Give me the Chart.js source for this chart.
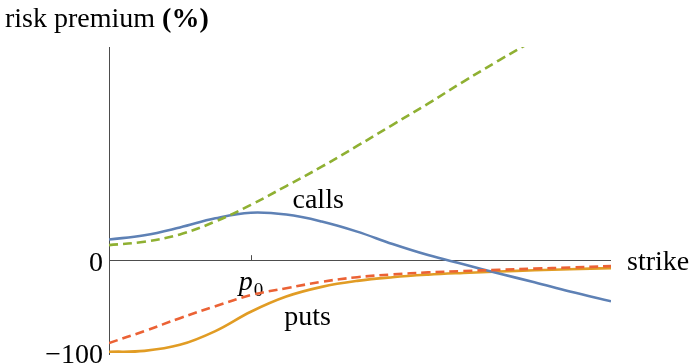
<!DOCTYPE html>
<html>
<head>
<meta charset="utf-8">
<script src="https://cdn.jsdelivr.net/npm/chart.js@4.4.1/dist/chart.umd.min.js"></script>
<style>
  html, body { margin: 0; padding: 0; background: #fff; }
  #wrap { width: 691px; height: 363px; }
</style>
</head>
<body>
<div id="wrap"><canvas id="c" width="691" height="363"></canvas></div>
<script>
// Strike grid, in units of the reference price p0
const strikes = [0, 0.25, 0.5, 0.75, 1, 1.25, 1.5, 1.75, 2, 2.25, 2.5, 2.75, 3, 3.25, 3.54];

// Risk premium (%) of calls and puts, solid and dashed variants
const callsSolid  = [22.5, 27, 35.5, 45.5, 51.5, 49.5, 42, 31, 17.5, 5.5, -4.5, -14.5, -24, -34, -44.6];
const callsDashed = [16.3, 20, 28, 42, 60, 80.5, 101.5, 124, 147, 170, 194, 217, 239, null, null];
const putsSolid   = [-99.5, -98.5, -92, -77, -56, -39.5, -29, -22.5, -18.5, -15.8, -13.9, -12.3, -11, -9.8, -8.7];
const putsDashed  = [-90, -77, -63, -50, -38, -30.5, -23.5, -18.5, -15.5, -13.3, -11.8, -10.5, -9.2, -8, -6.5];

// Axis ticks
const xTickValue = 1;
const xTickLabel = 'p';
const xTickSub = '0';
const yTicks = [0, -100];
const yTickLabels = ['0', '\u2212100'];

const X_MIN = 0, X_MAX = 3.54;
const Y_MIN = -103, Y_MAX = 231.5;

const serif = '"Liberation Serif", "Times New Roman", serif';

function toPoints(ys) {
  const pts = [];
  strikes.forEach((x, i) => { if (ys[i] !== null) pts.push({ x: x, y: ys[i] }); });
  return pts;
}

const axesAndText = {
  id: 'axesAndText',
  beforeDatasetsDraw(chart) {
    const ctx = chart.ctx;
    const xs = chart.scales.x, ys = chart.scales.y;
    const area = chart.chartArea;
    const y0 = ys.getPixelForValue(0);
    const xl = area.left;

    ctx.save();
    ctx.strokeStyle = '#4d4d4d';
    ctx.lineWidth = 1;
    ctx.beginPath();
    // horizontal axis through zero
    ctx.moveTo(xl, Math.round(y0) + 0.5);
    ctx.lineTo(area.right, Math.round(y0) + 0.5);
    // vertical axis
    ctx.moveTo(Math.round(xl) + 0.5, area.top);
    ctx.lineTo(Math.round(xl) + 0.5, area.bottom);
    // tick at p0
    const xp = Math.round(xs.getPixelForValue(xTickValue)) + 0.5;
    ctx.moveTo(xp, y0);
    ctx.lineTo(xp, y0 - 5);
    // y ticks
    yTicks.forEach(v => {
      const py = Math.round(ys.getPixelForValue(v)) + 0.5;
      ctx.moveTo(xl, py);
      ctx.lineTo(xl + 5, py);
    });
    ctx.stroke();

    ctx.fillStyle = '#000';
    ctx.textBaseline = 'alphabetic';

    // y tick labels
    ctx.font = '28px ' + serif;
    ctx.textAlign = 'right';
    yTicks.forEach((v, i) => {
      ctx.fillText(yTickLabels[i], xl - 6, ys.getPixelForValue(v) + 11);
    });

    // x tick label p0
    ctx.textAlign = 'left';
    ctx.font = 'italic 28px ' + serif;
    const pw = ctx.measureText(xTickLabel).width;
    const px0 = xs.getPixelForValue(xTickValue) - 12;
    ctx.fillText(xTickLabel, px0, y0 + 30);
    ctx.font = '19px ' + serif;
    ctx.fillText(xTickSub, px0 + pw + 1, y0 + 36);

    // axis label for strike
    ctx.font = '28px ' + serif;
    ctx.fillText('strike', area.right + 16, y0 + 10);

    // axis title: risk premium (%)
    ctx.font = '28px ' + serif;
    const t1 = 'risk premium ';
    ctx.fillText(t1, 5, 27);
    const w1 = ctx.measureText(t1).width;
    ctx.font = 'bold 28px ' + serif;
    ctx.fillText('(%)', 5 + w1, 27);

    // curve labels
    ctx.font = '28px ' + serif;
    ctx.textAlign = 'center';
    ctx.fillText('calls', xs.getPixelForValue(1.475), ys.getPixelForValue(57));
    ctx.fillText('puts', xs.getPixelForValue(1.4), ys.getPixelForValue(-70));
    ctx.restore();
  }
};

const lineBase = {
  pointRadius: 0,
  borderWidth: 2.6,
  fill: false,
  tension: 0.4
};

new Chart(document.getElementById('c'), {
  type: 'line',
  data: {
    datasets: [
      Object.assign({ label: 'calls dashed', data: toPoints(callsDashed), borderColor: '#8fb032', borderDash: [9, 5] }, lineBase),
      Object.assign({ label: 'puts dashed', data: toPoints(putsDashed), borderColor: '#eb6235', borderDash: [9, 5] }, lineBase),
      Object.assign({ label: 'calls', data: toPoints(callsSolid), borderColor: '#5e81b5' }, lineBase),
      Object.assign({ label: 'puts', data: toPoints(putsSolid), borderColor: '#e19c24' }, lineBase)
    ]
  },
  options: {
    responsive: false,
    animation: false,
    layout: { padding: { left: 109, right: 80, top: 47, bottom: 8 } },
    plugins: { legend: { display: false }, tooltip: { enabled: false } },
    scales: {
      x: { type: 'linear', min: X_MIN, max: X_MAX, display: false },
      y: { type: 'linear', min: Y_MIN, max: Y_MAX, display: false }
    }
  },
  plugins: [axesAndText]
});
</script>
</body>
</html>
